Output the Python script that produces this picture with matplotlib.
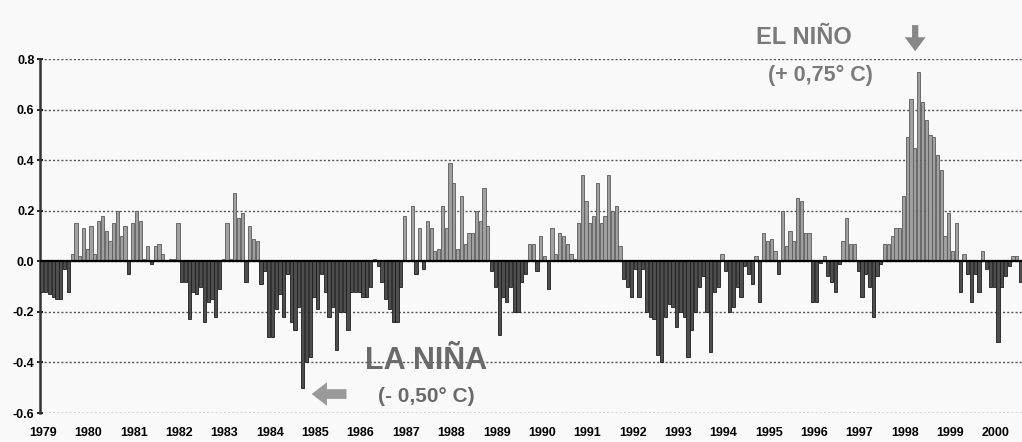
import numpy as np
import matplotlib.pyplot as plt

plt.rcParams['font.family'] = ['Liberation Sans', 'DejaVu Sans']

# monthly temperature anomalies (deg C)
anom_1979 = [-0.12, -0.12, -0.13, -0.14, -0.15, -0.15, -0.03, -0.12, 0.03, 0.15, 0.02, 0.13]
anom_1980 = [0.05, 0.14, 0.03, 0.16, 0.18, 0.12, 0.08, 0.15, 0.20, 0.10, 0.14, -0.05]
anom_1981 = [0.15, 0.20, 0.16, 0.01, 0.06, -0.01, 0.06, 0.07, 0.03, 0.005, 0.01, 0.01]
anom_1982 = [0.15, -0.08, -0.08, -0.23, -0.12, -0.13, -0.10, -0.24, -0.16, -0.15, -0.22, -0.11]
anom_1983 = [0.01, 0.15, 0.01, 0.27, 0.17, 0.19, -0.08, 0.14, 0.09, 0.08, -0.09, -0.04]
anom_1984 = [-0.30, -0.30, -0.19, -0.13, -0.22, -0.05, -0.24, -0.27, -0.18, -0.50, -0.40, -0.38]
anom_1985 = [-0.14, -0.19, -0.05, -0.12, -0.22, -0.18, -0.35, -0.20, -0.20, -0.27, -0.12, -0.12]
anom_1986 = [-0.12, -0.14, -0.14, -0.10, 0.01, -0.02, -0.08, -0.15, -0.19, -0.24, -0.24, -0.10]
anom_1987 = [0.18, 0.005, 0.22, -0.05, 0.13, -0.03, 0.16, 0.13, 0.04, 0.05, 0.22, 0.13]
anom_1988 = [0.39, 0.31, 0.05, 0.26, 0.07, 0.11, 0.11, 0.20, 0.16, 0.29, 0.14, -0.04]
anom_1989 = [-0.10, -0.29, -0.14, -0.16, -0.10, -0.20, -0.20, -0.08, -0.05, 0.07, 0.07, -0.04]
anom_1990 = [0.10, 0.02, -0.11, 0.13, 0.03, 0.11, 0.10, 0.07, 0.03, 0.01, 0.15, 0.34]
anom_1991 = [0.24, 0.15, 0.18, 0.31, 0.15, 0.18, 0.34, 0.20, 0.22, 0.06, -0.07, -0.10]
anom_1992 = [-0.14, -0.03, -0.14, -0.03, -0.20, -0.22, -0.23, -0.37, -0.40, -0.22, -0.17, -0.18]
anom_1993 = [-0.26, -0.20, -0.22, -0.38, -0.27, -0.20, -0.10, -0.06, -0.20, -0.36, -0.12, -0.10]
anom_1994 = [0.03, -0.04, -0.20, -0.18, -0.10, -0.14, -0.02, -0.05, -0.09, 0.02, -0.16, 0.11]
anom_1995 = [0.08, 0.09, 0.04, -0.05, 0.20, 0.06, 0.12, 0.08, 0.25, 0.24, 0.11, 0.11]
anom_1996 = [-0.16, -0.16, -0.005, 0.02, -0.06, -0.08, -0.12, -0.01, 0.08, 0.17, 0.07, 0.07]
anom_1997 = [-0.04, -0.14, -0.05, -0.10, -0.22, -0.06, -0.01, 0.07, 0.07, 0.10, 0.13, 0.13]
anom_1998 = [0.26, 0.49, 0.64, 0.45, 0.75, 0.63, 0.56, 0.50, 0.49, 0.42, 0.36, 0.10]
anom_1999 = [0.19, 0.04, 0.15, -0.12, 0.03, -0.05, -0.16, -0.05, -0.12, 0.04, -0.03, -0.10]
anom_2000 = [-0.10, -0.32, -0.10, -0.06, -0.02, 0.02, 0.02, -0.08]

years = list(range(1979, 2001))
yticks = [-0.6, -0.4, -0.2, 0.0, 0.2, 0.4, 0.6, 0.8]

values = np.array(anom_1979 + anom_1980 + anom_1981 + anom_1982 + anom_1983 + anom_1984
                  + anom_1985 + anom_1986 + anom_1987 + anom_1988 + anom_1989 + anom_1990
                  + anom_1991 + anom_1992 + anom_1993 + anom_1994 + anom_1995 + anom_1996
                  + anom_1997 + anom_1998 + anom_1999 + anom_2000)
t = 1979 + (np.arange(len(values)) + 0.5) / 12
pos = values >= 0

fig = plt.figure(figsize=(10.22, 4.42), dpi=100, facecolor='#f9f9f9')
ax = fig.add_axes([40 / 1022, 29 / 442, 982 / 1022, 354 / 442])
ax.set_facecolor('#f9f9f9')

ax.bar(t[pos], values[pos], width=0.85 / 12, color='#a0a0a0', edgecolor='#5a5a5a', linewidth=0.6, zorder=3)
ax.bar(t[~pos], values[~pos], width=0.85 / 12, color='#4e4e4e', edgecolor='#1e1e1e', linewidth=0.6, zorder=3)

for v in yticks:
    ax.axhline(v, color='#555555', lw=1.0, ls=(0, (1.5, 1.5)), zorder=1)
ax.axhline(0, color='black', lw=1.6, zorder=4)

ax.set_xlim(1979, 1979 + 981 / 45.3)
ax.set_ylim(-0.6, 0.8)
for s in ['top', 'right', 'bottom']:
    ax.spines[s].set_visible(False)
ax.spines['left'].set_color('#333333')
ax.spines['left'].set_linewidth(1.8)

ax.set_xticks([y + 0.07 for y in years])
ax.set_xticklabels([str(y) for y in years], fontsize=9, fontweight='bold')
ax.tick_params(axis='x', length=0, pad=10)
ax.set_yticks(yticks)
ax.set_yticklabels([f"{v:.1f}" for v in yticks], fontsize=9, fontweight='bold')
ax.tick_params(axis='y', length=4, width=1.2, direction='inout', pad=2)

# annotations
ax.text(1995.85, 0.885, "EL NIÑO", fontsize=17, fontweight='bold', color='#7a7a7a',
        ha='center', va='center', clip_on=False)
ax.text(1996.2, 0.735, "(+ 0,75° C)", fontsize=15.5, fontweight='bold', color='#7a7a7a',
        ha='center', va='center', clip_on=False)
ax.annotate('', xy=(1998.3, 0.82), xytext=(1998.3, 0.945), annotation_clip=False,
            arrowprops=dict(arrowstyle='simple,head_width=1.5,head_length=1.0,tail_width=0.45',
                            color='#888888', lw=0))
ax.text(1987.52, -0.395, "LA NIÑA", fontsize=22, fontweight='bold', color='#6a6a6a',
        ha='center', va='center')
ax.text(1987.52, -0.535, "(- 0,50° C)", fontsize=15, fontweight='bold', color='#6a6a6a',
        ha='center', va='center')
ax.annotate('', xy=(1984.93, -0.525), xytext=(1985.82, -0.525),
            arrowprops=dict(arrowstyle='simple,head_width=1.7,head_length=1.1,tail_width=0.7',
                            color='#9a9a9a', lw=0))

fig.savefig("out.png", dpi=100, facecolor=fig.get_facecolor())
